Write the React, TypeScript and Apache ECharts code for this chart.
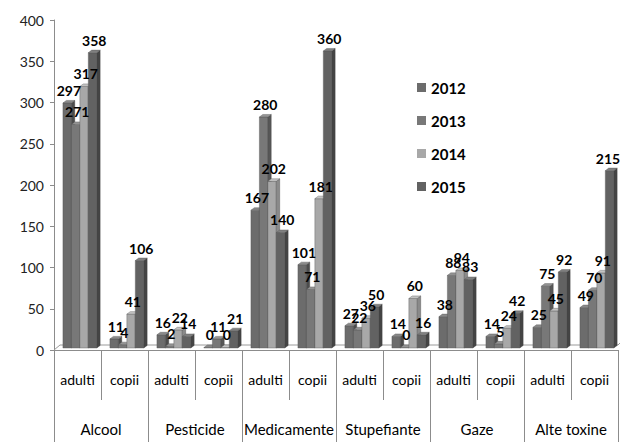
import React, { useEffect, useRef } from "react";
import * as echarts from "echarts";

const groups = ["Alcool", "Pesticide", "Medicamente", "Stupefiante", "Gaze", "Alte toxine"];
const subCategories = ["adulti", "copii", "adulti", "copii", "adulti", "copii", "adulti", "copii", "adulti", "copii", "adulti", "copii"];
const years = ["2012", "2013", "2014", "2015"];
const v2012 = [297, 11, 16, 0, 167, 101, 27, 14, 38, 14, 25, 49];
const v2013 = [271, 4, 2, 11, 280, 71, 22, 0, 88, 5, 75, 70];
const v2014 = [317, 41, 22, 0, 202, 181, 36, 60, 94, 24, 45, 91];
const v2015 = [358, 106, 14, 21, 140, 360, 50, 16, 83, 42, 92, 215];
const yTicks = [0, 50, 100, 150, 200, 250, 300, 350, 400];

const colors = ["#6c6c6c", "#787878", "#a8a8a8", "#626262"];
const sideColors = ["#4c4c4c", "#575757", "#8a8a8a", "#444444"];
const topColors = ["#8a8a8a", "#959595", "#c4c4c4", "#808080"];
const FONT = "Lato, 'Open Sans', sans-serif";

export default function App() {
  const ref = useRef<HTMLDivElement>(null);
  useEffect(() => {
    const chart = echarts.init(ref.current!, null, { renderer: "svg" });
    const all = [v2012, v2013, v2014, v2015];
    const makeRender = (si: number) => (params: any, api: any) => {
      const cat = api.value(0);
      const val = api.value(1);
      const base = api.coord([cat, 0]);
      const top = api.coord([cat, val]);
      const w = api.size([1, 0])[0];
      const bw = w * 0.18;
      const dx = bw * 0.4;
      const dy = bw * 0.3;
      const x0 = base[0] - w * 0.31 + si * bw;
      const yb = base[1] - 2;
      const yt = Math.min(top[1] - 2, yb - 0.5);
      const tx = Math.min(x0 + bw / 2 + dx / 2, api.getWidth() - 13);
      return {
        type: "group",
        children: [
          {
            type: "rect",
            z2: si * 3,
            shape: { x: x0, y: yt, width: bw, height: yb - yt },
            style: { fill: colors[si], stroke: "#555", lineWidth: 0.4 },
          },
          {
            type: "polygon",
            z2: si * 3 + 1,
            shape: { points: [[x0 + bw, yt], [x0 + bw + dx, yt - dy], [x0 + bw + dx, yb - dy], [x0 + bw, yb]] },
            style: { fill: sideColors[si], stroke: "#444", lineWidth: 0.4 },
          },
          {
            type: "polygon",
            z2: si * 3 + 2,
            shape: { points: [[x0, yt], [x0 + bw, yt], [x0 + bw + dx, yt - dy], [x0 + dx, yt - dy]] },
            style: { fill: topColors[si], stroke: "#555", lineWidth: 0.4 },
          },
          {
            type: "text",
            z2: 100,
            style: {
              text: String(val),
              x: tx,
              y: yt - dy - 3,
              align: "center",
              verticalAlign: "bottom",
              fontSize: 14,
              fontWeight: "bold",
              fontFamily: FONT,
              fill: "#000",
            },
          },
        ],
      };
    };
    chart.setOption({
      animation: false,
      backgroundColor: "#ffffff",
      textStyle: { fontFamily: FONT },
      grid: { left: 54, right: 3, top: 20, bottom: 92 },
      legend: {
        orient: "vertical",
        left: 412,
        top: 75,
        itemWidth: 9,
        itemHeight: 9,
        itemGap: 18,
        icon: "rect",
        data: years,
        textStyle: { fontFamily: FONT, fontSize: 15, fontWeight: "bold", color: "#000" },
      },
      xAxis: [
        {
          type: "category",
          data: subCategories,
          position: "bottom",
          axisLine: { show: true, lineStyle: { color: "#8c8c8c" } },
          axisTick: { show: true, length: 50, interval: 0, lineStyle: { color: "#8c8c8c", width: 1 } },
          axisLabel: { interval: 0, margin: 22, fontSize: 14, color: "#000", fontFamily: FONT },
        },
        {
          type: "category",
          data: groups,
          position: "bottom",
          axisLine: { show: false },
          axisTick: { show: true, length: 92, interval: 0, lineStyle: { color: "#8c8c8c", width: 1 } },
          axisLabel: { interval: 0, margin: 71, fontSize: 15, color: "#000", fontFamily: FONT },
        },
      ],
      yAxis: {
        type: "value",
        min: yTicks[0],
        max: yTicks[yTicks.length - 1],
        interval: 50,
        axisLine: { show: true, lineStyle: { color: "#8c8c8c" } },
        axisTick: { show: true, length: 4, lineStyle: { color: "#8c8c8c" } },
        splitLine: { show: false },
        axisLabel: { fontSize: 14, color: "#222", margin: 10, fontFamily: FONT },
      },
      series: years.map((y, i) => ({
        name: y,
        type: "custom",
        xAxisIndex: 0,
        z: 2,
        itemStyle: { color: colors[i] },
        encode: { x: 0, y: 1 },
        data: all[i].map((v, k) => [k, v]),
        renderItem: makeRender(i),
      })),
    });
    const y0 = chart.convertToPixel({ yAxisIndex: 0 }, 0) as number;
    const xl = chart.convertToPixel({ xAxisIndex: 0 }, 0) as number;
    const xr = chart.convertToPixel({ xAxisIndex: 0 }, subCategories.length - 1) as number;
    const half = (xr - xl) / (subCategories.length - 1) / 2;
    chart.setOption({
      graphic: [
        {
          type: "polyline",
          z: 1,
          silent: true,
          shape: { points: [[xl - half, y0], [xl - half + 6, y0 - 5], [xr + half, y0 - 5], [xr + half + 2, y0 - 7]] },
          style: { stroke: "#9a9a9a", lineWidth: 1, fill: "none" },
        },
      ],
    });
    return () => chart.dispose();
  }, []);
  return <div ref={ref} style={{ position: "absolute", left: 0, top: 0, width: 621, height: 442 }} />;
}
